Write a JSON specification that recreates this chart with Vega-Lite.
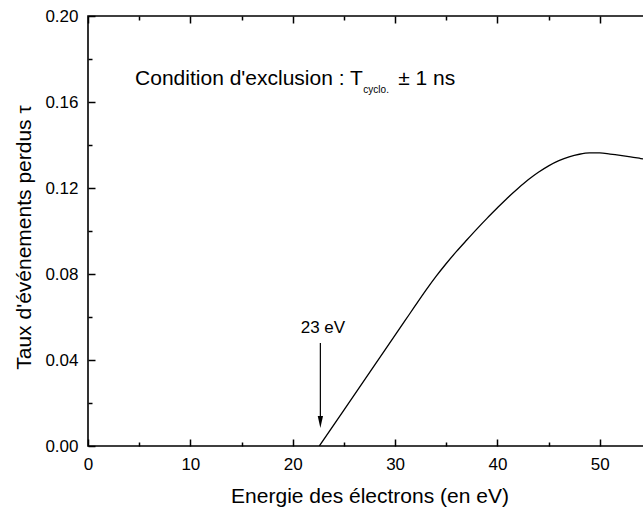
{
  "$schema": "https://vega.github.io/schema/vega-lite/v6.json",
  "width": 563,
  "height": 430,
  "autosize": {"type": "none"},
  "padding": {"left": 88, "top": 16, "right": -8, "bottom": 62},
  "background": "white",
  "config": {
    "view": {"stroke": "black", "strokeWidth": 1.6},
    "font": "Liberation Sans",
    "axis": {
      "domainColor": "black",
      "tickColor": "black",
      "labelColor": "black",
      "titleColor": "black",
      "grid": false,
      "domain": false,
      "tickWidth": 1.5,
      "labelFont": "Liberation Sans",
      "titleFont": "Liberation Sans",
      "labelFontSize": 17,
      "titleFontSize": 21,
      "titleFontWeight": "normal",
      "labelFlush": false,
      "labelOverlap": false
    }
  },
  "datasets": {
    "curve": [
      {"E": 22.6, "tau": 0.0},
      {"E": 25.0, "tau": 0.0167},
      {"E": 28.0, "tau": 0.0376},
      {"E": 31.0, "tau": 0.0585},
      {"E": 32.0, "tau": 0.0655},
      {"E": 33.0, "tau": 0.0724},
      {"E": 34.0, "tau": 0.0789},
      {"E": 35.0, "tau": 0.0849},
      {"E": 36.0, "tau": 0.0905},
      {"E": 37.0, "tau": 0.0958},
      {"E": 38.0, "tau": 0.1010},
      {"E": 39.0, "tau": 0.1060},
      {"E": 40.0, "tau": 0.1108},
      {"E": 41.0, "tau": 0.1155},
      {"E": 42.0, "tau": 0.1198},
      {"E": 43.0, "tau": 0.1238},
      {"E": 44.0, "tau": 0.1273},
      {"E": 45.0, "tau": 0.1303},
      {"E": 46.0, "tau": 0.1327},
      {"E": 47.0, "tau": 0.1345},
      {"E": 48.0, "tau": 0.1357},
      {"E": 49.0, "tau": 0.1363},
      {"E": 50.0, "tau": 0.1363},
      {"E": 51.0, "tau": 0.1358},
      {"E": 52.0, "tau": 0.1352},
      {"E": 53.0, "tau": 0.1345},
      {"E": 54.0, "tau": 0.1337},
      {"E": 55.0, "tau": 0.1329}
    ]
  },
  "resolve": {"axis": {"x": "independent", "y": "independent"}},
  "layer": [
    {
      "data": {"name": "curve"},
      "mark": {"type": "line", "color": "black", "strokeWidth": 1.3, "interpolate": "monotone", "clip": true},
      "encoding": {
        "x": {
          "field": "E", "type": "quantitative",
          "scale": {"domain": [0, 55], "nice": false, "zero": false},
          "axis": {
            "orient": "bottom", "values": [0, 10, 20, 30, 40, 50], "format": "d",
            "ticks": false, "labelPadding": 10,
            "title": "Energie des électrons (en eV)",
            "titleX": 281.5, "titleY": 56, "titleBaseline": "alphabetic", "titleAlign": "center", "titleAnchor": null
          }
        },
        "y": {
          "field": "tau", "type": "quantitative",
          "scale": {"domain": [0, 0.2], "nice": false, "zero": false},
          "axis": {
            "orient": "left", "values": [0, 0.04, 0.08, 0.12, 0.16, 0.2], "format": ".2f",
            "ticks": false, "labelPadding": 10,
            "title": "Taux d'événements perdus τ",
            "titleX": -58, "titleY": 221, "titleAngle": -90, "titleBaseline": "alphabetic", "titleAlign": "center", "titleAnchor": null
          }
        }
      }
    },
    {
      "data": {"name": "curve"},
      "mark": {"type": "point", "opacity": 0},
      "encoding": {
        "x": {"field": "E", "type": "quantitative", "scale": {"domain": [0, 55], "nice": false, "zero": false},
          "axis": {"orient": "bottom", "values": [0, 10, 20, 30, 40, 50], "tickSize": 7, "offset": -7, "labels": false, "title": null}},
        "y": {"field": "tau", "type": "quantitative", "scale": {"domain": [0, 0.2], "nice": false, "zero": false},
          "axis": {"orient": "left", "values": [0, 0.04, 0.08, 0.12, 0.16, 0.2], "tickSize": 7, "offset": -7, "labels": false, "title": null}}
      }
    },
    {
      "data": {"name": "curve"},
      "mark": {"type": "point", "opacity": 0},
      "encoding": {
        "x": {"field": "E", "type": "quantitative", "scale": {"domain": [0, 55], "nice": false, "zero": false},
          "axis": {"orient": "bottom", "values": [5, 15, 25, 35, 45], "tickSize": 4, "offset": -4, "labels": false, "title": null}},
        "y": {"field": "tau", "type": "quantitative", "scale": {"domain": [0, 0.2], "nice": false, "zero": false},
          "axis": {"orient": "left", "values": [0.02, 0.06, 0.1, 0.14, 0.18], "tickSize": 4, "offset": -4, "labels": false, "title": null}}
      }
    },
    {
      "data": {"name": "curve"},
      "mark": {"type": "point", "opacity": 0},
      "encoding": {
        "x": {"field": "E", "type": "quantitative", "scale": {"domain": [0, 55], "nice": false, "zero": false},
          "axis": {"orient": "top", "values": [0, 10, 20, 30, 40, 50], "tickSize": 7, "offset": -7, "labels": false, "title": null}},
        "y": {"field": "tau", "type": "quantitative", "scale": {"domain": [0, 0.2], "nice": false, "zero": false},
          "axis": {"orient": "right", "values": [0, 0.04, 0.08, 0.12, 0.16, 0.2], "tickSize": 7, "offset": -7, "labels": false, "title": null}}
      }
    },
    {
      "data": {"name": "curve"},
      "mark": {"type": "point", "opacity": 0},
      "encoding": {
        "x": {"field": "E", "type": "quantitative", "scale": {"domain": [0, 55], "nice": false, "zero": false},
          "axis": {"orient": "top", "values": [5, 15, 25, 35, 45], "tickSize": 4, "offset": -4, "labels": false, "title": null}},
        "y": {"field": "tau", "type": "quantitative", "scale": {"domain": [0, 0.2], "nice": false, "zero": false},
          "axis": {"orient": "right", "values": [0.02, 0.06, 0.1, 0.14, 0.18], "tickSize": 4, "offset": -4, "labels": false, "title": null}}
      }
    },
    {
      "data": {"values": [
        {"E": 4.6, "tau": 0.1679, "label": "Condition d'exclusion : T"},
        {"E": 30.3, "tau": 0.1679, "label": "± 1 ns"}
      ]},
      "mark": {"type": "text", "align": "left", "baseline": "alphabetic", "fontSize": 21, "color": "black", "font": "Liberation Sans"},
      "encoding": {
        "x": {"field": "E", "type": "quantitative", "axis": null},
        "y": {"field": "tau", "type": "quantitative", "axis": null},
        "text": {"field": "label"}
      }
    },
    {
      "data": {"values": [{"E": 26.9, "tau": 0.1642, "label": "cyclo."}]},
      "mark": {"type": "text", "align": "left", "baseline": "alphabetic", "fontSize": 10, "color": "black", "font": "Liberation Sans"},
      "encoding": {
        "x": {"field": "E", "type": "quantitative", "axis": null},
        "y": {"field": "tau", "type": "quantitative", "axis": null},
        "text": {"field": "label"}
      }
    },
    {
      "data": {"values": [{"E": 22.95, "tau": 0.0526, "label": "23 eV"}]},
      "mark": {"type": "text", "align": "center", "baseline": "alphabetic", "fontSize": 17, "color": "black", "font": "Liberation Sans"},
      "encoding": {
        "x": {"field": "E", "type": "quantitative", "axis": null},
        "y": {"field": "tau", "type": "quantitative", "axis": null},
        "text": {"field": "label"}
      }
    },
    {
      "data": {"values": [{"E": 22.7, "tau": 0.0479, "tau2": 0.012}]},
      "mark": {"type": "rule", "color": "black", "strokeWidth": 1.2},
      "encoding": {
        "x": {"field": "E", "type": "quantitative", "axis": null},
        "y": {"field": "tau", "type": "quantitative", "axis": null},
        "y2": {"field": "tau2"}
      }
    },
    {
      "data": {"values": [{"E": 22.7, "tau": 0.0084}]},
      "mark": {"type": "point", "shape": "M0,0L-0.22,-1L0.22,-1Z", "size": 576, "filled": true, "color": "black", "opacity": 1, "strokeWidth": 0},
      "encoding": {
        "x": {"field": "E", "type": "quantitative", "axis": null},
        "y": {"field": "tau", "type": "quantitative", "axis": null}
      }
    }
  ]
}
